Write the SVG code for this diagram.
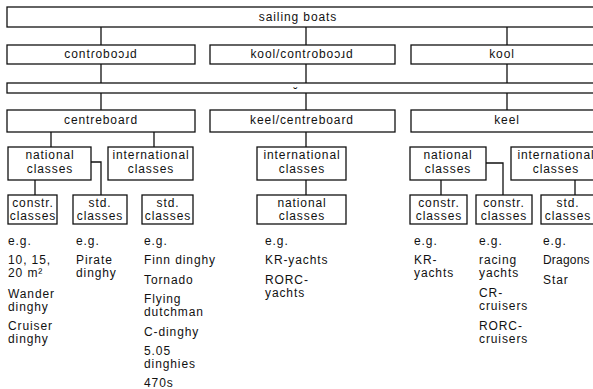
<svg xmlns="http://www.w3.org/2000/svg" width="593" height="389" viewBox="0 0 593 389">
<style>
.b{fill:#fff;stroke:#111;stroke-width:1.3}
.c{fill:none;stroke:#111;stroke-width:1.3}
text{font-family:"Liberation Sans","DejaVu Sans",Arial,sans-serif;font-size:12px;fill:#111;letter-spacing:0.9px}
.m{text-anchor:middle}
</style>
<rect width="593" height="389" fill="#fff"/>
<g id="connectors">
<path class="c" d="M101,27V45M101,64V83M101,93V110M306,27V45M306,64V83M306,93V110M507,27V45M507,64V83M507,93V110"/>
<path class="c" d="M51,132V147M154,132V147M35,180V195M91,162H101V195"/>
<path class="c" d="M306,132V147M306,180V195"/>
<path class="c" d="M441,180V195M486,163H503V195M575,180V195"/>
</g>
<g id="sailing-boats"><rect class="b" x="7" y="7" width="600" height="20"/><text class="m" x="298" y="21">sailing boats</text></g>
<g id="ghost-centreboard"><rect class="b" x="7" y="45" width="188" height="19"/><text class="m" x="101" y="58">contɾoboɔɹd</text></g>
<g id="ghost-keel-centreboard"><rect class="b" x="210" y="45" width="185" height="19"/><text class="m" x="302" y="58">kool/contɾoboɔɹd</text></g>
<g id="ghost-keel"><rect class="b" x="411" y="45" width="200" height="19"/><text class="m" x="502" y="58">kool</text></g>
<g id="ghost-bar"><rect class="b" x="7" y="83" width="600" height="10"/><text class="m" x="296" y="97">˘</text></g>
<g id="centreboard"><rect class="b" x="7" y="110" width="188" height="22"/><text class="m" x="101" y="124">centreboard</text></g>
<g id="keel-centreboard"><rect class="b" x="210" y="110" width="185" height="22"/><text class="m" x="302" y="124">keel/centreboard</text></g>
<g id="keel"><rect class="b" x="411" y="110" width="200" height="22"/><text class="m" x="507" y="124">keel</text></g>
<g id="cb-national"><rect class="b" x="8" y="147" width="83" height="33"/><text class="m" x="50" y="159">national</text><text class="m" x="50" y="173">classes</text></g>
<g id="cb-international"><rect class="b" x="108" y="147" width="85" height="33"/><text class="m" x="151" y="159">international</text><text class="m" x="151" y="173">classes</text></g>
<g id="cb-constr"><rect class="b" x="8" y="195" width="49" height="29"/><text class="m" x="33" y="207">constr.</text><text class="m" x="33" y="220">classes</text></g>
<g id="cb-std-nat"><rect class="b" x="73" y="195" width="54" height="29"/><text class="m" x="100" y="207">std.</text><text class="m" x="100" y="220">classes</text></g>
<g id="cb-std-int"><rect class="b" x="142" y="195" width="51" height="29"/><text class="m" x="168" y="207">std.</text><text class="m" x="168" y="220">classes</text></g>
<g id="kc-international"><rect class="b" x="257" y="147" width="89" height="33"/><text class="m" x="302" y="159">international</text><text class="m" x="302" y="173">classes</text></g>
<g id="kc-national"><rect class="b" x="257" y="195" width="89" height="29"/><text class="m" x="302" y="207">national</text><text class="m" x="302" y="220">classes</text></g>
<g id="k-national"><rect class="b" x="410" y="147" width="76" height="33"/><text class="m" x="448" y="159">national</text><text class="m" x="448" y="173">classes</text></g>
<g id="k-international"><rect class="b" x="511" y="147" width="90" height="33"/><text class="m" x="556" y="159">international</text><text class="m" x="556" y="173">classes</text></g>
<g id="k-constr1"><rect class="b" x="410" y="195" width="57" height="29"/><text class="m" x="439" y="207">constr.</text><text class="m" x="439" y="220">classes</text></g>
<g id="k-constr2"><rect class="b" x="476" y="195" width="56" height="29"/><text class="m" x="504" y="207">constr.</text><text class="m" x="504" y="220">classes</text></g>
<g id="k-std"><rect class="b" x="541" y="195" width="60" height="29"/><text class="m" x="568" y="207">std.</text><text class="m" x="568" y="220">classes</text></g>
<g id="examples">
<text x="8" y="245">e.g.</text><text x="8" y="264">10, 15,</text><text x="8" y="277">20 m²</text><text x="8" y="298">Wander</text><text x="8" y="311">dinghy</text><text x="8" y="330">Cruiser</text><text x="8" y="343">dinghy</text>
<text x="76" y="245">e.g.</text><text x="76" y="264">Pirate</text><text x="76" y="277">dinghy</text>
<text x="144" y="245">e.g.</text><text x="144" y="264">Finn dinghy</text><text x="144" y="284">Tornado</text><text x="144" y="303">Flying</text><text x="144" y="316">dutchman</text><text x="144" y="336">C-dinghy</text><text x="144" y="355">5.05</text><text x="144" y="368">dinghies</text><text x="144" y="387">470s</text>
<text x="265" y="245">e.g.</text><text x="265" y="264">KR-yachts</text><text x="265" y="284">RORC-</text><text x="265" y="297">yachts</text>
<text x="414" y="245">e.g.</text><text x="414" y="264">KR-</text><text x="414" y="277">yachts</text>
<text x="479" y="245">e.g.</text><text x="479" y="264">racing</text><text x="479" y="277">yachts</text><text x="479" y="297">CR-</text><text x="479" y="310">cruisers</text><text x="479" y="330">RORC-</text><text x="479" y="343">cruisers</text>
<text x="543" y="245">e.g.</text><text x="543" y="264" style="letter-spacing:0.2px">Dragons</text><text x="543" y="284">Star</text>
</g>
</svg>
